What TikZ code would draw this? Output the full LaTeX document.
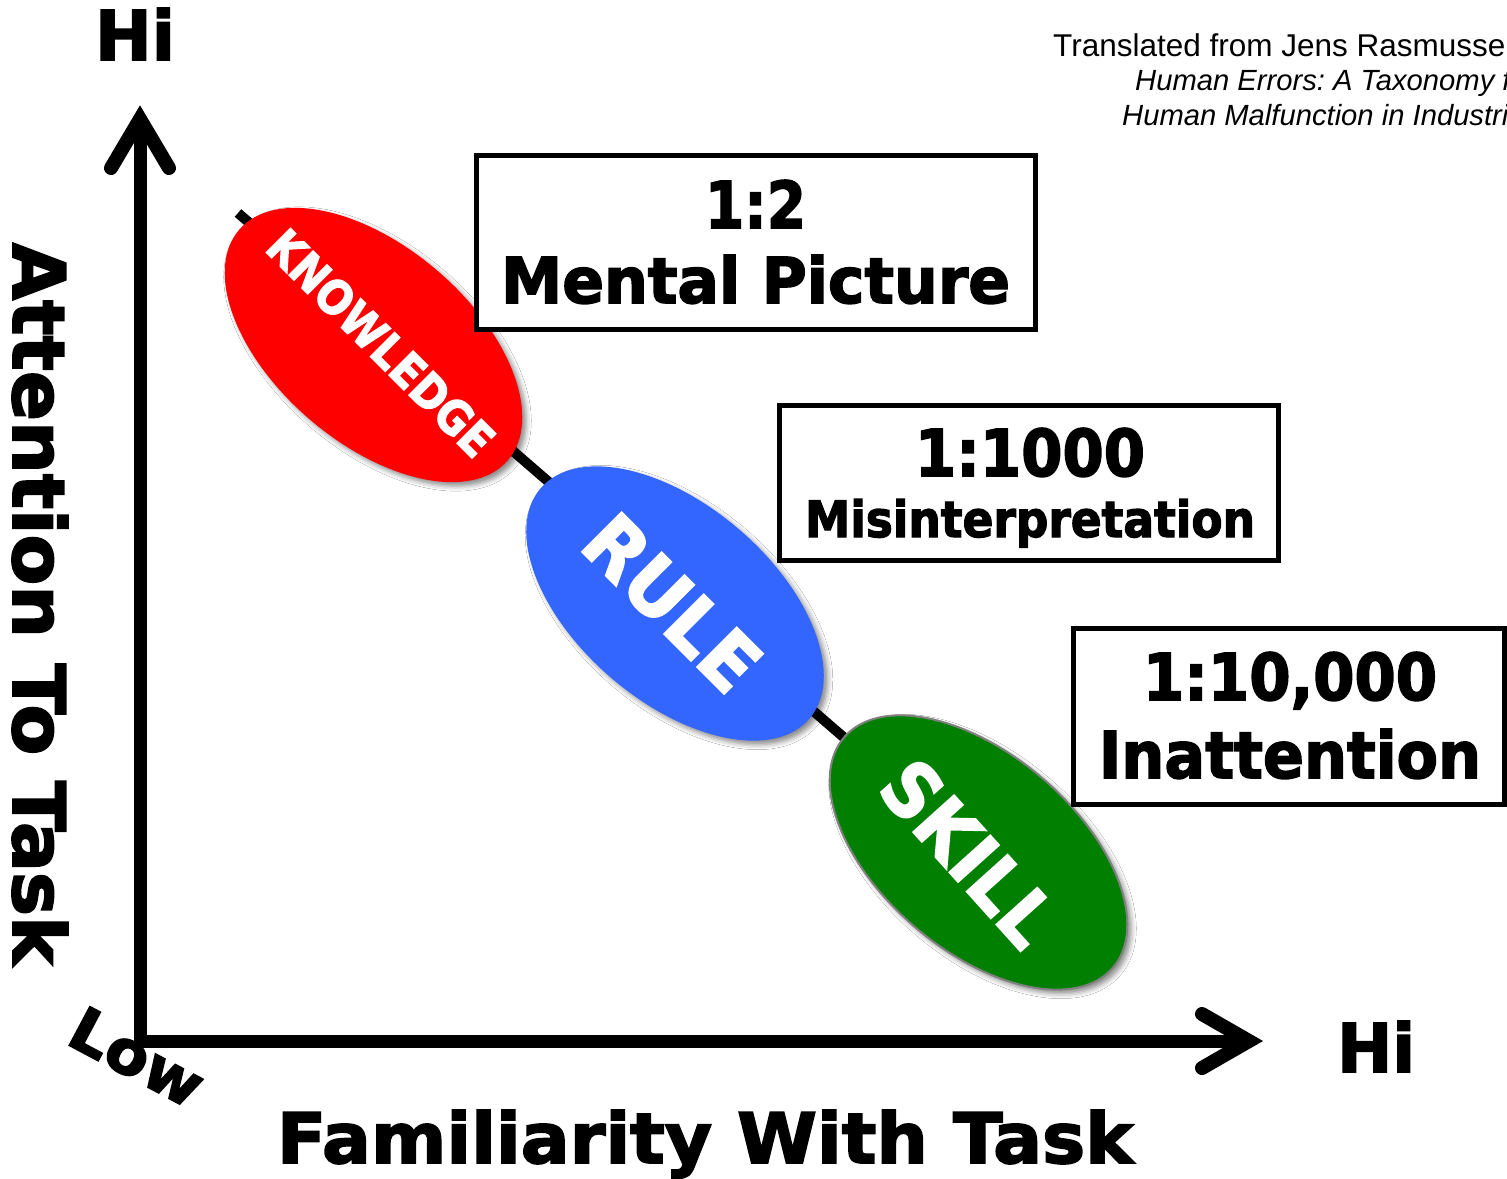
\documentclass[tikz,border=0pt]{standalone}
\usepackage{fontspec}
\usepackage{graphicx}
\setmainfont{Liberation Sans}
\newfontfamily\blk{DejaVu Sans}[FakeBold=2.5]
\usetikzlibrary{shapes.geometric,shadows.blur}
\newcommand\fitt[3]{\resizebox{#1pt}{#2pt}{\blk\bfseries #3}}
\definecolor{kred}{HTML}{FF0000}
\definecolor{rblue}{HTML}{3366FF}
\definecolor{sgreen}{HTML}{007F00}
\frenchspacing
\begin{document}
\begin{tikzpicture}[x=1pt,y=-1pt,
  axisline/.style={line width=13pt,line join=miter},
  headline/.style={line width=14pt,line cap=round,line join=miter},
  blob/.style={ellipse,inner sep=0pt,minimum width=354pt,minimum height=196pt,rotate=-40.6,
    blur shadow={shadow xshift=4pt,shadow yshift=-4pt,shadow blur radius=5pt,shadow opacity=45}},
  blobtext/.style={inner sep=0pt,text=white,anchor=center},
  ratebox/.style={draw=black,line width=5pt,fill=white,inner sep=0pt},
  lbl/.style={inner sep=0pt,anchor=base},
  note/.style={inner sep=0pt,anchor=base west}
]
\useasboundingbox (0,0) rectangle (1507,1178);
\fill[white] (0,0) rectangle (1507,1178);

% axes
\coordinate (o) at (140,1041);
\coordinate (yt) at (140,119);
\coordinate (xe) at (1249,1041);
\draw[axisline] (yt) -- (o) -- (xe);
\coordinate (yhl) at (111,168);
\coordinate (yhr) at (169,168);
\draw[headline] (yhl) -- (yt) -- (yhr);
\coordinate (xhu) at (1202,1014);
\coordinate (xhd) at (1202,1068);
\draw[headline] (xhu) -- (xe) -- (xhd);

% axis labels
\node[lbl] (hitop) at (135,60) {\fitt{80}{52}{Hi}};
\node[lbl] (hiright) at (1376,1072) {\fitt{78}{51}{Hi}};
\node[lbl] (xlab) at (705,1163) {\fitt{856}{53}{Familiarity With Task}};
\node[lbl,rotate=-90] (ylab) at (13,604) {\fitt{722}{55}{Attention To Task}};
\node[inner sep=0pt,rotate=-28] (low) at (137,1057) {\fitt{142}{44}{Low}};

% diagonal
\coordinate (ds) at (238,213);
\coordinate (de) at (848,741);
\draw[line width=10pt] (ds) -- (de);

% ellipses
\node[blob,fill=kred] (k) at (373.5,345) {};
\node[blob,fill=rblue] (r) at (675,603.5) {};
\node[blob,fill=sgreen,draw=gray,line width=2pt] (s) at (978.5,852.5) {};
\node[blobtext,rotate=-45] (kt) at (381,343) {\fitt{298}{35}{KNOWLEDGE}};
\node[blobtext,rotate=-45] (rt) at (672,603) {\fitt{213}{56}{RULE}};
\node[blobtext,rotate=-48] (st) at (969,853) {\fitt{219}{56}{SKILL}};

% boxes
\node[ratebox,minimum width=559pt,minimum height=174pt] (b1) at (755.5,242.5) {};
\node[lbl] (b1a) at (755.5,228) {\fitt{101}{48}{1:2}};
\node[lbl] (b1b) at (755.5,303) {\fitt{509}{48}{Mental Picture}};
\node[ratebox,minimum width=499pt,minimum height=155pt] (b2) at (1028.5,482.5) {};
\node[lbl] (b2a) at (1030,476) {\fitt{230}{48}{1:1000}};
\node[lbl] (b2b) at (1030,537) {\fitt{450}{38}{Misinterpretation}};
\node[ratebox,minimum width=431pt,minimum height=176pt] (b3) at (1288.5,716) {};
\node[lbl] (b3a) at (1290,700) {\fitt{294}{48}{1:10,000}};
\node[lbl] (b3b) at (1290,778) {\fitt{382}{49}{Inattention}};

% source note
\begin{scope}
\clip (0,0) rectangle (1507,1178);
\node[note,font=\fontsize{31.5}{35}\selectfont] (n1) at (1053,56) {Translated from Jens Rasmussen's};
\node[note,font=\fontsize{29.2}{35}\selectfont\itshape] (n2) at (1135,90) {Human Errors: A Taxonomy for};
\node[note,font=\fontsize{29.2}{35}\selectfont\itshape] (n3) at (1122,125) {Human Malfunction in Industrial};
\end{scope}
\end{tikzpicture}
\end{document}
